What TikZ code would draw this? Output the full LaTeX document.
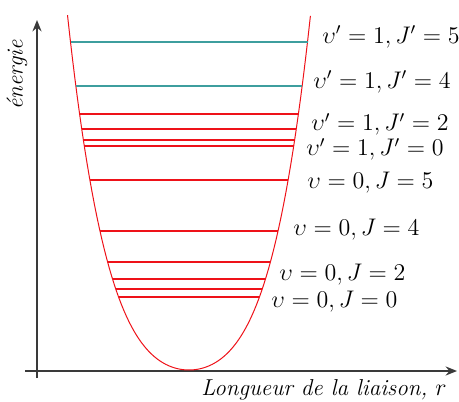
\documentclass[tikz,border=0pt]{standalone}
\usepackage{fontspec}
\usepackage{amsmath}
\usetikzlibrary{arrows.meta}
\definecolor{enRed}{HTML}{EE1219}
\definecolor{enTeal}{HTML}{3E9E9E}
\definecolor{enAxis}{HTML}{3A3A3A}
\tikzset{
  axisline/.style={-{Stealth[length=2mm, width=1.6mm]}, thick, enAxis},
  well/.style={draw=enRed, line width=0.5pt},
  lvl/.style={enRed, semithick},
  lvlzero/.style={enRed, very thick},
  lvlhi/.style={enTeal, semithick},
  tag/.style={font=\large, anchor=west, inner sep=0pt},
  axislabel/.style={font=\fontsize{11.5}{14}\selectfont\itshape, inner sep=0pt}
}
% well shape: h/100 = a s^2 + b s^4, s = half width/100
\def\wa{0.999}
\def\wb{0.952}
\begin{document}
\begin{tikzpicture}[x=0.5pt, y=-0.5pt]
  \useasboundingbox (0,0) rectangle (459,401);
  % axes
  \coordinate (ytop) at (37,20);
  \coordinate (ybot) at (37,378);
  \coordinate (xleft) at (25,371);
  \coordinate (xright) at (457,371);
  \draw[axisline] (ybot) -- (ytop);
  \draw[axisline] (xleft) -- (xright);
  \node[axislabel, rotate=90] (ener) at (17,75) {énergie};
  \node[axislabel, anchor=west] (dist) at (201,390) {Longueur de la liaison, $r$};
  % potential well
  \draw[well, domain=-1.215:1.215, samples=100]
    plot ({189+100*\x}, {370-100*(\wa*\x*\x+\wb*\x*\x*\x*\x)});
  % rovibrational levels
  \foreach \yy/\sty in {297/lvlzero, 289/lvl, 279/lvl, 262/lvl, 231/lvl, 180/lvl,
                        146/lvlzero, 140/lvl, 129/lvl, 114/lvl, 86/lvlhi, 42/lvlhi}{
    \pgfmathsetmacro\ss{(-\wa+sqrt(\wa*\wa+4*\wb*(370-\yy)/100))/(2*\wb)}
    \pgfmathsetmacro\hw{100*sqrt(\ss)}
    \draw[\sty] ({189-\hw},\yy) -- ({189+\hw},\yy);
  }
  % labels
  \node[tag] (t15) at (322,37)  {$\upsilon'=1, J'=5$};
  \node[tag] (t14) at (313,82)  {$\upsilon'=1, J'=4$};
  \node[tag] (t12) at (311,124.5) {$\upsilon'=1, J'=2$};
  \node[tag] (t10) at (306,149.5) {$\upsilon'=1, J'=0$};
  \node[tag] (t05) at (307,183) {$\upsilon=0, J=5$};
  \node[tag] (t04) at (293,230) {$\upsilon=0, J=4$};
  \node[tag] (t02) at (279,275) {$\upsilon=0, J=2$};
  \node[tag] (t00) at (271,302) {$\upsilon=0, J=0$};
\end{tikzpicture}
\end{document}
